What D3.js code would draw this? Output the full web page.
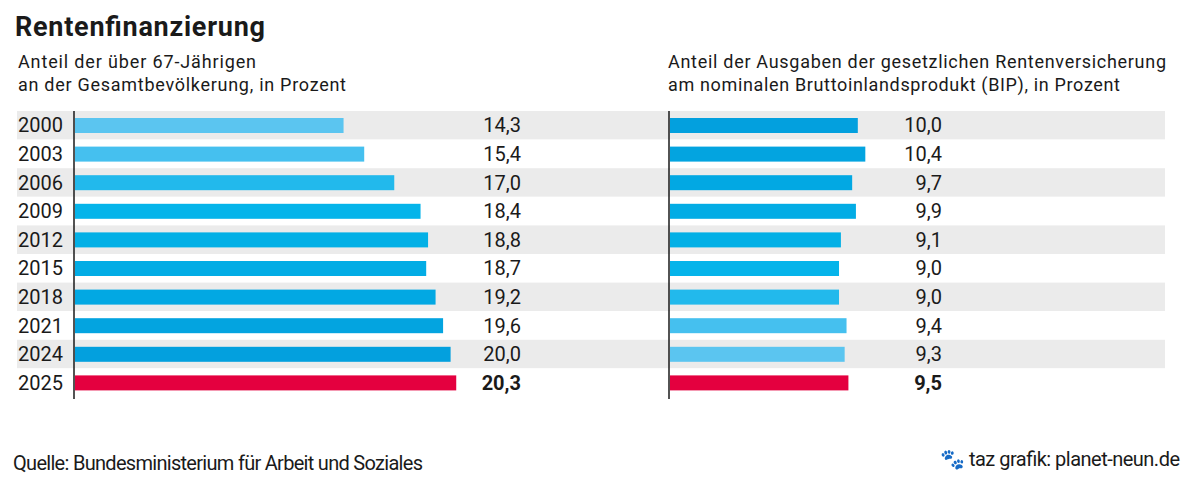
<!DOCTYPE html>
<html><head><meta charset="utf-8">
<script src="https://cdn.jsdelivr.net/npm/d3@7"></script>
<style>
body{margin:0;background:#fff}
text{font-family:"Roboto",sans-serif;fill:#1a1a1a}
</style></head>
<body><svg id="chart" width="1200" height="487"></svg>
<script>
const jahre = ["2000","2003","2006","2009","2012","2015","2018","2021","2024","2025"];
const anteilAeltere = [14.3,15.4,17.0,18.4,18.8,18.7,19.2,19.6,20.0,20.3];
const anteilAusgaben = [10.0,10.4,9.7,9.9,9.1,9.0,9.0,9.4,9.3,9.5];
const blauTöne = ["#5bc5f0","#45c0ef","#22b9ec","#05b4ea","#03b0e6","#02ace5","#02a8e3","#03a4e0","#03a0de"];

const svg = d3.select("#chart");
const fmt = v => d3.format(".1f")(v).replace(".", ",");

const y = d3.scaleBand().domain(jahre).range([111, 397]).paddingInner(0).paddingOuter(0);
const k = 18.78;

// Hintergrundstreifen
svg.selectAll("rect.band").data(jahre).enter().append("rect")
  .attr("x", 17).attr("width", 1148)
  .attr("y", d => y(d)).attr("height", y.bandwidth())
  .attr("fill", (d, i) => i % 2 === 0 ? "#ebebeb" : "#fff");

svg.append("text").attr("x", 15).attr("y", 36).attr("font-size", 27).attr("font-weight", "bold")
  .attr("textLength", 250).text("Rentenfinanzierung");

function panel(x0, werte, labelX, titel, farben, jahreZeigen, breiten) {
  const x = d3.scaleLinear().domain([0, 1]).range([x0, x0 + k]);
  titel.forEach((t, i) => svg.append("text").attr("x", jahreZeigen ? 18 : 668).attr("y", 68 + i * 23)
    .attr("font-size", 18).attr("textLength", breiten[i]).text(t));
  svg.selectAll(null).data(werte).enter().append("rect")
    .attr("x", x(0)).attr("y", (d, i) => y(jahre[i]) + 7).attr("height", 15)
    .attr("width", d => x(d) - x(0))
    .attr("fill", (d, i) => i === werte.length - 1 ? "#e4003f" : farben[i]);
  svg.selectAll(null).data(werte).enter().append("text")
    .attr("x", labelX).attr("y", (d, i) => y(jahre[i]) + y.bandwidth() / 2 + 7)
    .attr("text-anchor", "end").attr("font-size", 20)
    .attr("font-weight", (d, i) => i === werte.length - 1 ? "bold" : "normal")
    .text(fmt);
  svg.append("line").attr("x1", x0 - 1).attr("x2", x0 - 1).attr("y1", 111).attr("y2", 399)
    .attr("stroke", "#1a1a1a").attr("stroke-width", 1.5);
  if (jahreZeigen) {
    svg.selectAll(null).data(jahre).enter().append("text")
      .attr("x", 18).attr("y", d => y(d) + y.bandwidth() / 2 + 7)
      .attr("font-size", 20).text(d => d);
  }
}

panel(75, anteilAeltere, 521, ["Anteil der über 67-Jährigen", "an der Gesamtbevölkerung, in Prozent"], blauTöne, true, [238, 328]);
panel(670, anteilAusgaben, 942, ["Anteil der Ausgaben der gesetzlichen Rentenversicherung", "am nominalen Bruttoinlandsprodukt (BIP), in Prozent"], blauTöne.slice().reverse(), false, [498, 452]);

svg.append("text").attr("x", 13).attr("y", 470).attr("font-size", 20).attr("textLength", 410).text("Quelle: Bundesministerium für Arbeit und Soziales");
svg.append("text").attr("x", 940).attr("y", 466).attr("font-size", 20).attr("textLength", 240).text("\u{1F43E} taz grafik: planet-neun.de");
</script></body></html>
